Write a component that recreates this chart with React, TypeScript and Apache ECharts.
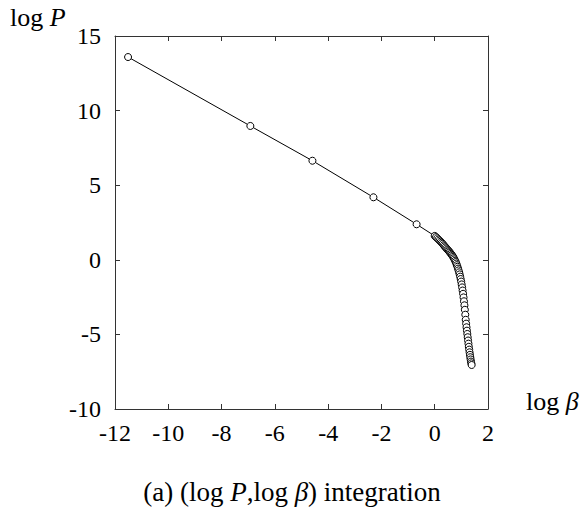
import React, { useEffect, useRef } from "react";
import * as echarts from "echarts";

// sparse integration points (log beta, log P)
const sparseLogBeta = [-11.51, -6.92, -4.59, -2.30, -0.68];
const sparseLogP = [13.59, 8.97, 6.64, 4.19, 2.38];

// dense points near log beta in [0, 1.39]
const denseLogBeta = [
  0, 0.0488, 0.0953, 0.1398, 0.1823, 0.2231, 0.2624, 0.3001, 0.3365, 0.3716,
  0.4055, 0.4383, 0.47, 0.5008, 0.5306, 0.5596, 0.5878, 0.6152, 0.6419, 0.6678,
  0.6931, 0.7178, 0.7419, 0.7655, 0.7885, 0.8109, 0.8329, 0.8544, 0.8755, 0.8961,
  0.9163, 0.9361, 0.9555, 0.9746, 0.9933, 1.0116, 1.0296, 1.0473, 1.0647, 1.0818,
  1.0986, 1.1151, 1.1314, 1.1474, 1.1632, 1.1787, 1.1939, 1.209, 1.2238, 1.2384,
  1.2528, 1.2669, 1.2809, 1.2947, 1.3083, 1.3218, 1.335, 1.3481, 1.361, 1.3737,
  1.3863,
];
const denseLogP = [
  1.6, 1.52, 1.44, 1.36, 1.29, 1.21, 1.14, 1.07, 0.98, 0.91,
  0.84, 0.77, 0.7, 0.64, 0.58, 0.52, 0.46, 0.4, 0.33, 0.26,
  0.19, 0.11, 0.03, -0.06, -0.15, -0.25, -0.36, -0.47, -0.59, -0.71,
  -0.84, -0.98, -1.13, -1.29, -1.46, -1.65, -1.85, -2.06, -2.28, -2.52,
  -2.78, -3.05, -3.35, -3.68, -4.02, -4.28, -4.52, -4.75, -4.97, -5.19,
  -5.41, -5.62, -5.83, -6.02, -6.2, -6.37, -6.53, -6.68, -6.82, -6.94,
  -7.05,
];

const xTicks = { min: -12, max: 2, interval: 2 };
const yTicks = { min: -10, max: 15, interval: 5 };

const FONT = "Liberation Serif";

export default function App() {
  const ref = useRef<HTMLDivElement>(null);
  useEffect(() => {
    if (!ref.current) return;
    const chart = echarts.init(ref.current, null, { renderer: "svg" });
    const data: number[][] = [];
    sparseLogBeta.forEach((x, i) => data.push([x, sparseLogP[i]]));
    denseLogBeta.forEach((x, i) => data.push([x, denseLogP[i]]));

    const axisLine = { show: true, onZero: false, lineStyle: { color: "#333", width: 1 } };
    const tick = { show: true, inside: true, length: 5, lineStyle: { color: "#333" } };
    const label = { fontFamily: FONT, fontSize: 24, color: "#000" };
    const richL = { i: { fontFamily: FONT, fontSize: 26, fontStyle: "italic" } };
    const richC = { i: { fontFamily: FONT, fontSize: 27, fontStyle: "italic" } };

    chart.setOption({
      animation: false,
      textStyle: { fontFamily: FONT },
      grid: { left: 115, top: 36, right: 99, bottom: 103, containLabel: false },
      xAxis: [
        {
          type: "value", ...xTicks, position: "bottom",
          axisLine, axisTick: tick, splitLine: { show: false },
          axisLabel: { ...label, margin: 12 },
        },
        {
          type: "value", ...xTicks, position: "top",
          axisLine, axisTick: tick, splitLine: { show: false },
          axisLabel: { show: false },
        },
      ],
      yAxis: [
        {
          type: "value", ...yTicks, position: "left",
          axisLine, axisTick: tick, splitLine: { show: false },
          axisLabel: { ...label, margin: 14 },
        },
        {
          type: "value", ...yTicks, position: "right",
          axisLine, axisTick: tick, splitLine: { show: false },
          axisLabel: { show: false },
        },
      ],
      series: [
        {
          type: "line",
          data,
          symbol: "circle",
          symbolSize: 7,
          showAllSymbol: true,
          lineStyle: { color: "#000", width: 1 },
          itemStyle: { color: "#fff", borderColor: "#000", borderWidth: 1 },
          z: 3,
        },
      ],
      graphic: [
        {
          type: "text",
          x: 10,
          y: 17,
          style: {
            text: "log {i|P}",
            fontFamily: FONT,
            fontSize: 26,
            fill: "#000",
            verticalAlign: "middle",
            rich: richL,
          },
        },
        {
          type: "text",
          x: 526,
          y: 401,
          style: {
            text: "log {i|β}",
            fontFamily: FONT,
            fontSize: 26,
            fill: "#000",
            verticalAlign: "middle",
            rich: richL,
          },
        },
        {
          type: "text",
          x: 292,
          y: 492,
          style: {
            text: "(a) (log {i|P},log {i|β}) integration",
            fontFamily: FONT,
            fontSize: 27,
            fill: "#000",
            align: "center",
            verticalAlign: "middle",
            rich: richC,
          },
        },
      ],
    });
    return () => chart.dispose();
  }, []);
  return (
    <div
      ref={ref}
      style={{ position: "absolute", left: 0, top: 0, width: 587, height: 512 }}
    />
  );
}
